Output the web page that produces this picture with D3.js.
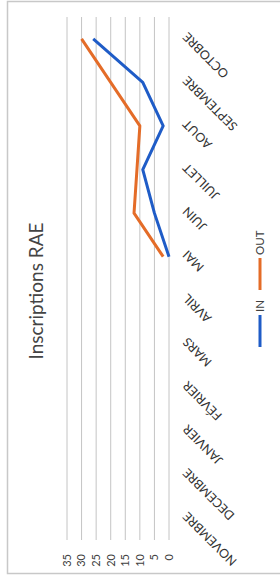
<!DOCTYPE html>
<html>
<head>
<meta charset="utf-8">
<script src="https://cdn.jsdelivr.net/npm/d3@7"></script>
<style>
  body { margin: 0; background: #fff; }
  text { font-family: Lato, "Liberation Sans", sans-serif; fill: #404040; }
</style>
</head>
<body>
<div id="chart"></div>
<script>
var months = ["NOVEMBRE", "DECEMBRE", "JANVIER", "FÉVRIER", "MARS", "AVRIL",
              "MAI", "JUIN", "JUILLET", "AOUT", "SEPTEMBRE", "OCTOBRE"];
var inValues  = [null, null, null, null, null, null, 0, 5, 9, 2, 9, 26];
var outValues = [null, null, null, null, null, null, 2, 12, 11, 10, 20, 30];
var ticks = [0, 5, 10, 15, 20, 25, 30, 35];
var series = [
  { name: "IN", values: inValues, color: "#1f5cc7" },
  { name: "OUT", values: outValues, color: "#e46c28" }
];

// page is 280x585, the chart is drawn 585 wide then turned a quarter to the left
var W = 585, H = 280;

var svg = d3.select("#chart").append("svg")
    .attr("width", 280)
    .attr("height", 585);

svg.append("rect")
    .attr("x", 7.5).attr("y", 1.5)
    .attr("width", 300).attr("height", 572)
    .attr("fill", "none")
    .attr("stroke", "#c8c8c8")
    .attr("stroke-width", 1.5);

var g = svg.append("g")
    .attr("transform", "translate(0," + W + ")rotate(-90)");

var x = d3.scalePoint()
    .domain(months)
    .range([45, 568])
    .padding(0.5);

var y = d3.scaleLinear()
    .domain([0, 35])
    .range([169, 67]);

// gridlines
g.selectAll(".grid")
    .data(ticks)
  .enter().append("line")
    .attr("class", "grid")
    .attr("x1", 45).attr("x2", 568)
    .attr("y1", function(d) { return y(d); })
    .attr("y2", function(d) { return y(d); })
    .attr("stroke", "#c4c4c4")
    .attr("stroke-width", 1);

// value labels
g.selectAll(".tick")
    .data(ticks)
  .enter().append("text")
    .attr("class", "tick")
    .attr("x", 31)
    .attr("y", function(d) { return y(d); })
    .attr("dy", "0.35em")
    .attr("text-anchor", "end")
    .style("font-size", "11px")
    .text(function(d) { return d; });

// month labels
g.selectAll(".month")
    .data(months)
  .enter().append("text")
    .attr("class", "month")
    .attr("transform", function(d) {
      return "translate(" + (x(d) + 4) + "," + (y(0) + 16) + ")rotate(-45)";
    })
    .attr("text-anchor", "end")
    .attr("dy", "0.35em")
    .style("font-size", "12.5px")
    .style("fill", "#333")
    .text(function(d) { return d; });

var line = d3.line()
    .defined(function(d) { return d.v != null; })
    .x(function(d) { return x(d.m); })
    .y(function(d) { return y(d.v); });

g.selectAll(".series")
    .data(series)
  .enter().append("path")
    .attr("class", "series")
    .attr("fill", "none")
    .attr("stroke", function(d) { return d.color; })
    .attr("stroke-width", 3)
    .attr("stroke-linejoin", "round")
    .attr("d", function(d) {
      return line(months.map(function(m, i) { return { m: m, v: d.values[i] }; }));
    });

// title
g.append("text")
    .attr("x", 294)
    .attr("y", 43)
    .attr("text-anchor", "middle")
    .style("font-size", "19px")
    .style("fill", "#444")
    .text("Inscriptions RAE");

// legend
var legend = g.selectAll(".legend")
    .data(series)
  .enter().append("g")
    .attr("class", "legend")
    .attr("transform", function(d, i) { return "translate(" + (238 + i * 57) + ",260)"; });

legend.append("line")
    .attr("x1", 0).attr("x2", 32)
    .attr("stroke", function(d) { return d.color; })
    .attr("stroke-width", 3);

legend.append("text")
    .attr("x", 35)
    .attr("dy", "0.35em")
    .style("font-size", "11.5px")
    .text(function(d) { return d.name; });
</script>
</body>
</html>
